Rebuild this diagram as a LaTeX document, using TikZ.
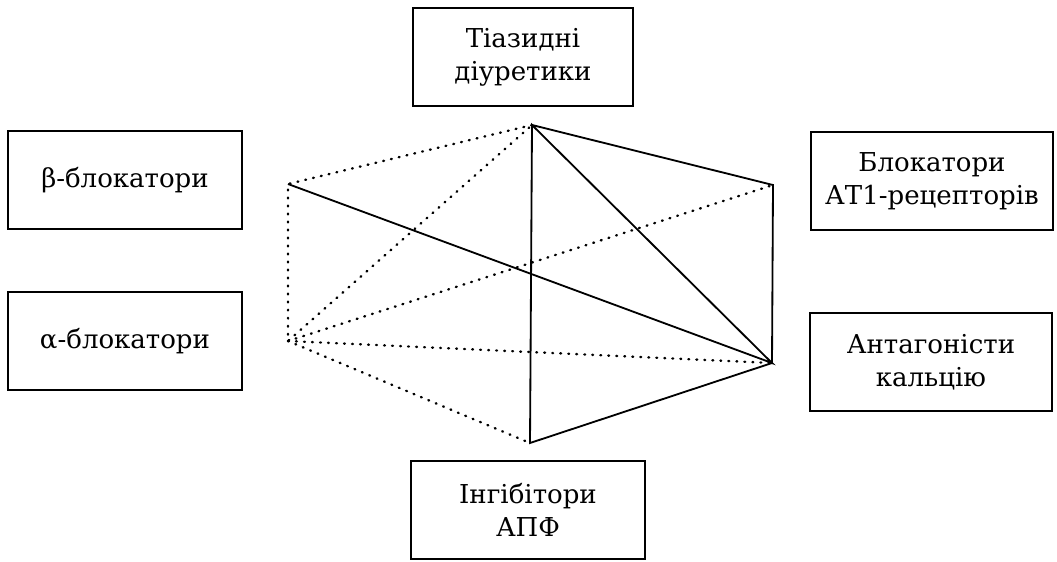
\documentclass[tikz,border=0pt]{standalone}
\usepackage{fontspec}
\setmainfont{DejaVu Serif}
\usetikzlibrary{positioning}

\begin{document}
\begin{tikzpicture}[x=0.025cm, y=-0.025cm,
  drugbox/.style={draw, line width=1.4pt, minimum width=#1, minimum height=2.45cm, inner sep=0pt, align=center, font=\fontsize{18.5}{23.5}\selectfont},
  combo/.style={line width=1.3pt},
  weakcombo/.style={line width=1.7pt, line cap=round, dash pattern=on 0.6pt off 5.1pt},
]
  \useasboundingbox (0,0) rectangle (1057,561);

  % Drug groups
  \node[drugbox=5.5cm] (thiazide) at (523,57) {Тіазидні\\діуретики};
  \node[drugbox=5.85cm] (beta) at (125,180) {β-блокатори};
  \node[drugbox=5.85cm] (alpha) at (125,341) {α-блокатори};
  \node[drugbox=5.85cm] (acei) at (528,510) {Інгібітори\\АПФ};
  \node[drugbox=6.03cm] (arb) at (932,181) {Блокатори\\АТ1-рецепторів};
  \node[drugbox=6.03cm] (cca) at (931,362) {Антагоністи\\кальцію};

  % Hexagon corners
  \coordinate (tv) at (532,125);
  \coordinate (bv) at (288,184);
  \coordinate (av) at (288,341);
  \coordinate (iv) at (530,443);
  \coordinate (cv) at (772,363);
  \coordinate (rv) at (773,185);

  % Recommended combinations
  \draw[combo] (tv) -- (rv) -- (cv) -- (iv) -- (tv) -- (cv) -- (bv);

  % Possible combinations
  \draw[weakcombo] (tv) -- (bv) -- (av) -- (tv);
  \draw[weakcombo] (av) -- (rv);
  \draw[weakcombo] (av) -- (cv);
  \draw[weakcombo] (av) -- (iv);
\end{tikzpicture}
\end{document}
